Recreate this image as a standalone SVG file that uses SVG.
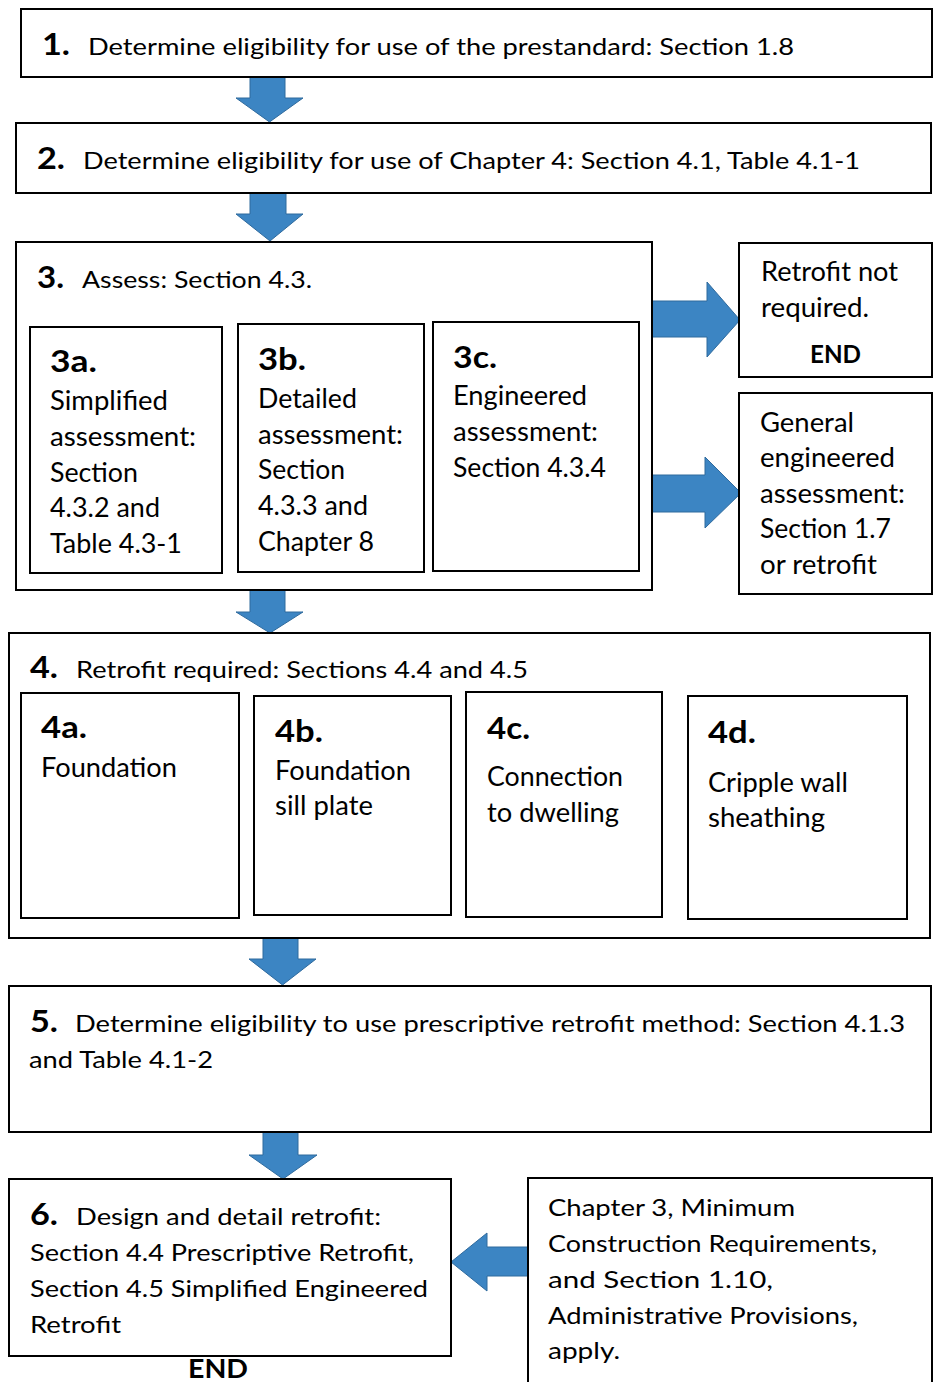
<svg xmlns="http://www.w3.org/2000/svg" width="934" height="1382" viewBox="0 0 934 1382">
<style>
.box{fill:#fff;stroke:#000;stroke-width:2}
.arr{fill:#3c85c3;stroke:#2f6a9d;stroke-width:1}
text{font-family:Lato,"Liberation Sans",sans-serif;fill:#000}
.t{font-size:24px}
.s{font-size:26.4px}
.n{font-size:30px;font-weight:bold}
.e{font-size:24px;font-weight:bold}
</style>
<rect x="0" y="0" width="934" height="1382" fill="#fff"/>
<g id="connectors">
<path class="arr" d="M250,77 L285,77 L285,98 L303,98 L269.5,122 L236,98 L250,98 Z"/>
<path class="arr" d="M250,193 L286,193 L286,214 L303,214 L270,241 L236,214 L250,214 Z"/>
<path class="arr" d="M250,590 L285,590 L285,612 L303,612 L270,633 L236,612 L250,612 Z"/>
<path class="arr" d="M263,938 L298,938 L298,959 L316,959 L282.5,985 L249,959 L263,959 Z"/>
<path class="arr" d="M263,1132 L298,1132 L298,1155 L317,1155 L283,1179 L249,1155 L263,1155 Z"/>
<path class="arr" d="M652,301 L707,301 L707,282 L740,320 L707,357 L707,337 L652,337 Z"/>
<path class="arr" d="M652,475 L705,475 L705,457 L741,493 L705,528 L705,512 L652,512 Z"/>
<path class="arr" d="M528,1247 L487,1247 L487,1233 L451,1262 L487,1291 L487,1276 L528,1276 Z"/>
</g>
<g id="step1">
<rect class="box" x="21" y="9" width="911" height="68"/>
<text class="n" x="42" y="55" textLength="28" lengthAdjust="spacingAndGlyphs">1.</text>
<text class="t" x="88" y="55" textLength="706" lengthAdjust="spacingAndGlyphs">Determine eligibility for use of the prestandard: Section 1.8</text>
</g>
<g id="step2">
<rect class="box" x="16" y="123" width="915" height="70"/>
<text class="n" x="37" y="169" textLength="28" lengthAdjust="spacingAndGlyphs">2.</text>
<text class="t" x="83" y="169" textLength="777" lengthAdjust="spacingAndGlyphs">Determine eligibility for use of Chapter 4: Section 4.1, Table 4.1-1</text>
</g>
<g id="step3">
<rect class="box" x="16" y="242" width="636" height="348"/>
<text class="n" x="37" y="288" textLength="27" lengthAdjust="spacingAndGlyphs">3.</text>
<text class="t" x="82" y="288" textLength="230" lengthAdjust="spacingAndGlyphs">Assess: Section 4.3.</text>
</g>
<g id="step3a">
<rect class="box" x="30" y="327" width="192" height="246"/>
<text class="n" x="50" y="372" textLength="47" lengthAdjust="spacingAndGlyphs">3a.</text>
<text class="s" x="50" y="410" textLength="118" lengthAdjust="spacingAndGlyphs">Simplified</text>
<text class="s" x="50" y="446" textLength="146" lengthAdjust="spacingAndGlyphs">assessment:</text>
<text class="s" x="50" y="482" textLength="88" lengthAdjust="spacingAndGlyphs">Section</text>
<text class="s" x="50" y="517" textLength="110" lengthAdjust="spacingAndGlyphs">4.3.2 and</text>
<text class="s" x="50" y="553" textLength="132" lengthAdjust="spacingAndGlyphs">Table 4.3-1</text>
</g>
<g id="step3b">
<rect class="box" x="238" y="324" width="186" height="248"/>
<text class="n" x="258" y="370" textLength="48" lengthAdjust="spacingAndGlyphs">3b.</text>
<text class="s" x="258" y="408" textLength="99" lengthAdjust="spacingAndGlyphs">Detailed</text>
<text class="s" x="258" y="444" textLength="145" lengthAdjust="spacingAndGlyphs">assessment:</text>
<text class="s" x="258" y="479" textLength="87" lengthAdjust="spacingAndGlyphs">Section</text>
<text class="s" x="258" y="515" textLength="110" lengthAdjust="spacingAndGlyphs">4.3.3 and</text>
<text class="s" x="258" y="551" textLength="116" lengthAdjust="spacingAndGlyphs">Chapter 8</text>
</g>
<g id="step3c">
<rect class="box" x="433" y="322" width="206" height="249"/>
<text class="n" x="453" y="368" textLength="44" lengthAdjust="spacingAndGlyphs">3c.</text>
<text class="s" x="453" y="405" textLength="134" lengthAdjust="spacingAndGlyphs">Engineered</text>
<text class="s" x="453" y="441" textLength="145" lengthAdjust="spacingAndGlyphs">assessment:</text>
<text class="s" x="453" y="477" textLength="153" lengthAdjust="spacingAndGlyphs">Section 4.3.4</text>
</g>
<g id="notRequired">
<rect class="box" x="739" y="243" width="193" height="134"/>
<text class="s" x="761" y="281" textLength="137" lengthAdjust="spacingAndGlyphs">Retrofit not</text>
<text class="s" x="761" y="317" textLength="108" lengthAdjust="spacingAndGlyphs">required.</text>
<text class="e" x="810" y="363" textLength="51" lengthAdjust="spacingAndGlyphs">END</text>
</g>
<g id="generalAssessment">
<rect class="box" x="739" y="393" width="193" height="201"/>
<text class="s" x="760" y="432" textLength="94" lengthAdjust="spacingAndGlyphs">General</text>
<text class="s" x="760" y="467" textLength="135" lengthAdjust="spacingAndGlyphs">engineered</text>
<text class="s" x="760" y="503" textLength="145" lengthAdjust="spacingAndGlyphs">assessment:</text>
<text class="s" x="760" y="538" textLength="131" lengthAdjust="spacingAndGlyphs">Section 1.7</text>
<text class="s" x="760" y="574" textLength="117" lengthAdjust="spacingAndGlyphs">or retrofit</text>
</g>
<g id="step4">
<rect class="box" x="9" y="633" width="921" height="305"/>
<text class="n" x="30" y="678" textLength="28" lengthAdjust="spacingAndGlyphs">4.</text>
<text class="t" x="76" y="678" textLength="452" lengthAdjust="spacingAndGlyphs">Retrofit required: Sections 4.4 and 4.5</text>
</g>
<g id="step4a">
<rect class="box" x="21" y="693" width="218" height="225"/>
<text class="n" x="41" y="738" textLength="46" lengthAdjust="spacingAndGlyphs">4a.</text>
<text class="s" x="41" y="777" textLength="136" lengthAdjust="spacingAndGlyphs">Foundation</text>
</g>
<g id="step4b">
<rect class="box" x="254" y="696" width="197" height="219"/>
<text class="n" x="275" y="742" textLength="48" lengthAdjust="spacingAndGlyphs">4b.</text>
<text class="s" x="275" y="780" textLength="136" lengthAdjust="spacingAndGlyphs">Foundation</text>
<text class="s" x="275" y="815" textLength="98" lengthAdjust="spacingAndGlyphs">sill plate</text>
</g>
<g id="step4c">
<rect class="box" x="466" y="692" width="196" height="225"/>
<text class="n" x="487" y="739" textLength="43" lengthAdjust="spacingAndGlyphs">4c.</text>
<text class="s" x="487" y="786" textLength="136" lengthAdjust="spacingAndGlyphs">Connection</text>
<text class="s" x="487" y="822" textLength="132" lengthAdjust="spacingAndGlyphs">to dwelling</text>
</g>
<g id="step4d">
<rect class="box" x="688" y="696" width="219" height="223"/>
<text class="n" x="708" y="743" textLength="48" lengthAdjust="spacingAndGlyphs">4d.</text>
<text class="s" x="708" y="792" textLength="140" lengthAdjust="spacingAndGlyphs">Cripple wall</text>
<text class="s" x="708" y="827" textLength="117" lengthAdjust="spacingAndGlyphs">sheathing</text>
</g>
<g id="step5">
<rect class="box" x="9" y="986" width="922" height="146"/>
<text class="n" x="30" y="1032" textLength="28" lengthAdjust="spacingAndGlyphs">5.</text>
<text class="t" x="75" y="1032" textLength="830" lengthAdjust="spacingAndGlyphs">Determine eligibility to use prescriptive retrofit method: Section 4.1.3</text>
<text class="t" x="29" y="1068" textLength="184" lengthAdjust="spacingAndGlyphs">and Table 4.1-2</text>
</g>
<g id="step6">
<rect class="box" x="9" y="1179" width="442" height="177"/>
<text class="n" x="30" y="1225" textLength="28" lengthAdjust="spacingAndGlyphs">6.</text>
<text class="t" x="76" y="1225" textLength="305" lengthAdjust="spacingAndGlyphs">Design and detail retrofit:</text>
<text class="t" x="30" y="1261" textLength="384" lengthAdjust="spacingAndGlyphs">Section 4.4 Prescriptive Retrofit,</text>
<text class="t" x="30" y="1297" textLength="398" lengthAdjust="spacingAndGlyphs">Section 4.5 Simplified Engineered</text>
<text class="t" x="30" y="1333" textLength="91" lengthAdjust="spacingAndGlyphs">Retrofit</text>
<text class="e" x="188" y="1378" style="font-size:26px" textLength="60" lengthAdjust="spacingAndGlyphs">END</text>
</g>
<g id="minimumRequirements">
<rect class="box" x="528" y="1178" width="404" height="220"/>
<text class="t" x="548" y="1216" textLength="247" lengthAdjust="spacingAndGlyphs">Chapter 3, Minimum</text>
<text class="t" x="548" y="1252" textLength="329" lengthAdjust="spacingAndGlyphs">Construction Requirements,</text>
<text class="t" x="548" y="1288" textLength="225" lengthAdjust="spacingAndGlyphs">and Section 1.10,</text>
<text class="t" x="548" y="1324" textLength="310" lengthAdjust="spacingAndGlyphs">Administrative Provisions,</text>
<text class="t" x="548" y="1359" textLength="72" lengthAdjust="spacingAndGlyphs">apply.</text>
</g>
</svg>
